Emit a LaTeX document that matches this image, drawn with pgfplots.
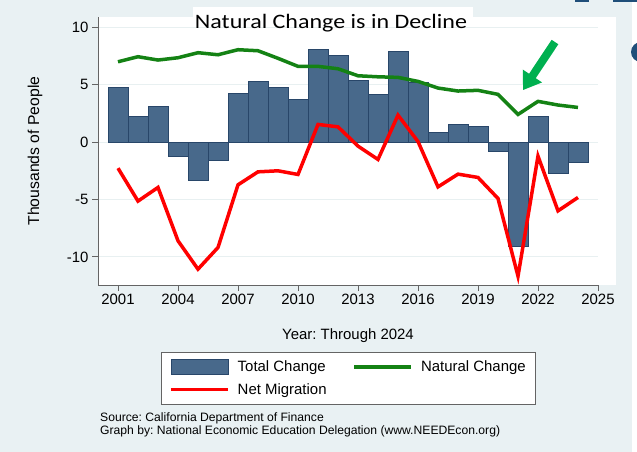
\documentclass[border=0pt]{standalone}
\usepackage{fontspec}
\setmainfont{Liberation Sans}
\newfontfamily\titlefont{Carlito}
\usepackage{pgfplots}
\pgfplotsset{compat=1.18}
\usetikzlibrary{arrows.meta}

\definecolor{slidebg}{RGB}{233,241,243}
\definecolor{barfill}{RGB}{72,105,139}
\definecolor{baredge}{RGB}{40,70,105}
\definecolor{natgreen}{RGB}{20,130,20}
\definecolor{arrowgreen}{RGB}{0,176,80}
\definecolor{gridc}{RGB}{232,240,241}
\definecolor{axisc}{RGB}{100,100,100}
\definecolor{slideblue}{RGB}{31,78,121}

\begin{document}
\frenchspacing
\begin{tikzpicture}
% slide background and white plot region
\fill[slidebg] (0bp,0bp) rectangle (637bp,-452bp);
\useasboundingbox (0bp,0bp) rectangle (637bp,-452bp);
\fill[white] (632bp,0bp) rectangle (637bp,-452bp);
\fill[white] (98bp,-17bp) rectangle (616bp,-285bp);
\fill[white] (193bp,-7bp) rectangle (473bp,-20bp);
\begin{scope}
\clip (0bp,0bp) rectangle (637bp,-452bp);
\fill[slideblue] (641bp,-52bp) circle (10bp);
\end{scope}
\fill[slideblue] (575bp,0bp) rectangle (589bp,-1.5bp);
\fill[slideblue] (613bp,0bp) rectangle (637bp,-1.5bp);

\begin{axis}[
  at={(98bp,-285bp)}, anchor=south west,
  scale only axis, width=500bp, height=268bp,
  xmin=2000, xmax=2025, ymin=-12.45, ymax=10.9,
  axis lines*=left,
  axis line style={draw=axisc, line width=0.8bp},
  tick style={draw=axisc, line width=0.8bp},
  tick align=outside, major tick length=6bp,
  xtick={2001,2004,2007,2010,2013,2016,2019,2022,2025},
  xticklabels={2001,2004,2007,2010,2013,2016,2019,2022,2025},
  ytick={-10,-5,0,5,10},
  yticklabels={-10,-5,0,5,10},
  ymajorgrids, grid style={draw=gridc, line width=1.2bp},
  ticklabel style={font=\fontsize{15}{18}\selectfont},
  ylabel={Thousands of People},
  xlabel={Year: Through 2024},
  every axis y label/.style={at={(axis description cs:-0.126,0.5)}, rotate=90,
    anchor=center, font=\fontsize{15.8}{18}\selectfont},
  every axis x label/.style={at={(axis description cs:0.5,-0.19)},
    anchor=center, font=\fontsize{15}{18}\selectfont},
  legend columns=2,
  legend cell align=left,
  legend style={at={(0.501,-0.25)}, anchor=north, draw=axisc, line width=0.8bp,
    fill=white, font=\fontsize{15}{18}\selectfont, inner xsep=8bp, inner ysep=6.5bp,
    row sep=6bp,
    /tikz/every odd column/.append style={column sep=6bp},
    /tikz/every even column/.append style={column sep=24bp}},
  clip=false,
]
\addplot[ybar, bar width=20bp, bar shift=0pt, fill=barfill, draw=baredge, line width=0.8bp,
  legend image code/.code={\draw[fill=barfill, draw=baredge, line width=0.6bp] (0bp,-7.5bp) rectangle (57bp,7.5bp);}]
coordinates {
(2001,4.77) (2002,2.27) (2003,3.14) (2004,-1.22) (2005,-3.37) (2006,-1.57)
(2007,4.21) (2008,5.32) (2009,4.80) (2010,3.75) (2011,8.10) (2012,7.58)
(2013,5.38) (2014,4.12) (2015,7.90) (2016,5.17) (2017,0.81) (2018,1.51)
(2019,1.34) (2020,-0.84) (2021,-9.13) (2022,2.24) (2023,-2.73) (2024,-1.74)
};
\addlegendentry{Total Change}
\addplot[natgreen, line width=3.5bp, mark=none,
  legend image code/.code={\draw[natgreen, line width=3.5bp] (0bp,0bp) -- (57bp,0bp);}]
coordinates {
(2001,7.00) (2002,7.44) (2003,7.15) (2004,7.35) (2005,7.79) (2006,7.61)
(2007,8.05) (2008,7.96) (2009,7.30) (2010,6.60) (2011,6.60) (2012,6.39)
(2013,5.78) (2014,5.69) (2015,5.64) (2016,5.29) (2017,4.71) (2018,4.45)
(2019,4.51) (2020,4.16) (2021,2.41) (2022,3.55) (2023,3.23) (2024,3.02)
};
\addlegendentry{Natural Change}
\addplot[red, line width=3.5bp, mark=none,
  legend image code/.code={\draw[red, line width=3.5bp] (0bp,0bp) -- (57bp,0bp);}]
coordinates {
(2001,-2.27) (2002,-5.14) (2003,-3.95) (2004,-8.60) (2005,-11.07) (2006,-9.18)
(2007,-3.72) (2008,-2.59) (2009,-2.50) (2010,-2.82) (2011,1.54) (2012,1.33)
(2013,-0.35) (2014,-1.51) (2015,2.35) (2016,0.05) (2017,-3.90) (2018,-2.79)
(2019,-3.08) (2020,-4.91) (2021,-11.68) (2022,-1.22) (2023,-5.99) (2024,-4.82)
};
\addlegendentry{Net Migration}
\draw[arrowgreen, line width=8bp, -{Triangle[width=22bp,length=17bp]}]
  (axis cs:2022.85,8.72) -- (axis cs:2021.25,4.53);
\end{axis}

\node[font=\titlefont\fontsize{20.6}{24}\selectfont, anchor=base] at (331bp,-28bp)
  {\scalebox{1.17}[1]{Natural Change is in Decline}};
\node[font=\fontsize{12.2}{14}\selectfont, anchor=base west, inner sep=0pt] at (100bp,-421bp) {Source: California Department of Finance};
\node[font=\fontsize{12.2}{14}\selectfont, anchor=base west, inner sep=0pt] at (100bp,-434bp) {Graph by: National Economic Education Delegation (www.NEEDEcon.org)};
\end{tikzpicture}
\end{document}
